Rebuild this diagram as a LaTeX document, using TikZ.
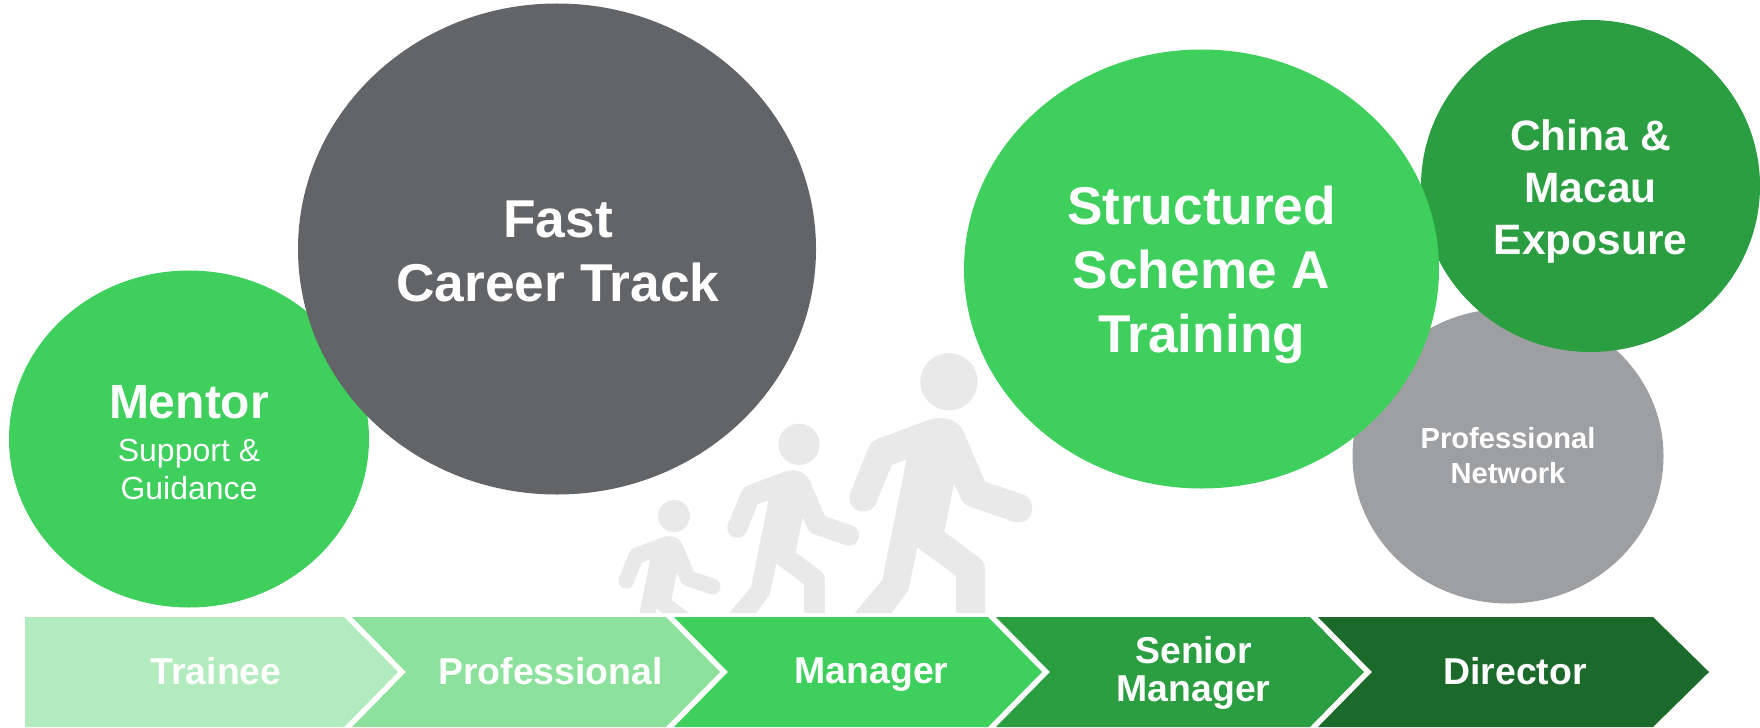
\documentclass[tikz,border=0pt]{standalone}
\usepackage{fontspec}
\setmainfont{Liberation Sans}
\usetikzlibrary{shapes.geometric, positioning}
\definecolor{leaf1}{HTML}{B1EBBE}
\definecolor{leaf2}{HTML}{8CE19C}
\definecolor{leaf3}{HTML}{3ECF5C}
\definecolor{leaf4}{HTML}{2A9E40}
\definecolor{leaf5}{HTML}{1B6A2B}
\definecolor{slate}{HTML}{636468}
\definecolor{ash}{HTML}{9E9FA2}
\definecolor{figure}{HTML}{E9E9E9}
\tikzset{
    bubble/.style={ellipse, inner sep=0pt},
    bubbletext/.style={align=center, text=white},
    ranklabel/.style={align=center, text=white, font=\fontsize{37.4}{38}\selectfont\bfseries},
    walker/.pic={
        \fill[figure] (0,0) circle (86);
        \fill[figure] (108,300) -- (218,337)
            .. controls (268,350) and (259,435) .. (193,420)
            -- (63,375) .. controls (48,370) and (38,360) .. (31,340)
            -- (15,305) -- (-14,450) -- (93,530)
            .. controls (103,538) and (108,550) .. (108,565)
            -- (108,800) -- (21,800) -- (21,583) -- (-95,497) -- (-122,625)
            -- (-249,800) -- (-372,800) -- (-200,595) -- (-127,232) -- (-172,250)
            -- (-217,360) .. controls (-228,405) and (-310,400) .. (-297,335)
            -- (-242,200) .. controls (-235,185) and (-228,178) .. (-215,172)
            -- (-62,115) .. controls (-20,100) and (30,110) .. (48,160) -- cycle;
    }
}

\begin{document}
\begin{tikzpicture}[x=1pt, y=-1pt]
    \useasboundingbox (0,0) rectangle (1760,727.5);

    % people walking, feet hidden above the bar
    \begin{scope}
        \clip (0,0) rectangle (1760,612);
        \pic at (949,381.7) [scale=0.3333] {walker};
        \pic at (799,444.3) [scale=0.24] {walker};
        \pic at (674,516) [scale=0.186] {walker};
    \end{scope}

    % bubbles
    \node[bubble, fill=leaf3, minimum width=360pt, minimum height=337pt] (mentor) at (189,439) {};
    \node[bubble, fill=slate, minimum width=518pt, minimum height=491pt] (fast) at (557,249) {};
    \node[bubble, fill=ash, minimum width=311pt, minimum height=295pt] (network) at (1508,456) {};
    \node[bubble, fill=leaf4, minimum width=339pt, minimum height=332pt] (china) at (1590.5,186) {};
    \node[bubble, fill=leaf3, minimum width=475pt, minimum height=439pt] (scheme) at (1201.5,269) {};

    \node[bubbletext, font=\fontsize{32}{38}\selectfont] (mentorlabel) at (189,442.5)
        {{\fontsize{48}{50}\selectfont\bfseries Mentor}\\[5.5pt]Support \&\\Guidance};
    \node[bubbletext, font=\fontsize{53.3}{64}\selectfont\bfseries] (fastlabel) at (558,251.5) {Fast\\Career Track};
    \node[bubbletext, font=\fontsize{29.1}{35}\selectfont\bfseries] (networklabel) at (1508,456) {Professional\\Network};
    \node[bubbletext, font=\fontsize{42.5}{51.6}\selectfont\bfseries] (chinalabel) at (1590.5,191.5) {China \&\\Macau\\Exposure};
    \node[bubbletext, font=\fontsize{53.2}{64}\selectfont\bfseries] (schemelabel) at (1201.5,275) {Structured\\Scheme A\\Training};

    % career steps
    \fill[leaf1] (25,617) -- (344,617) -- (398,672) -- (344,727) -- (25,727) -- cycle;
    \foreach \i/\col in {0/leaf2, 1/leaf3, 2/leaf4} {
        \fill[\col, xshift=\i*322pt] (352,617) -- (666,617) -- (720,672) -- (666,727)
            -- (352,727) -- (406,672) -- cycle;
    }
    \fill[leaf5] (1318,617) -- (1653,617) -- (1709,672) -- (1653,727)
        -- (1318,727) -- (1372,672) -- cycle;

    \node[ranklabel] (trainee) at (216,671) {Trainee};
    \node[ranklabel] (professional) at (550.5,671) {Professional};
    \node[ranklabel] (manager) at (871.5,674.5) {Manager};
    \node[ranklabel] (senior) at (1193.5,673) {Senior\\Manager};
    \node[ranklabel] (director) at (1515,671) {Director};
\end{tikzpicture}
\end{document}
